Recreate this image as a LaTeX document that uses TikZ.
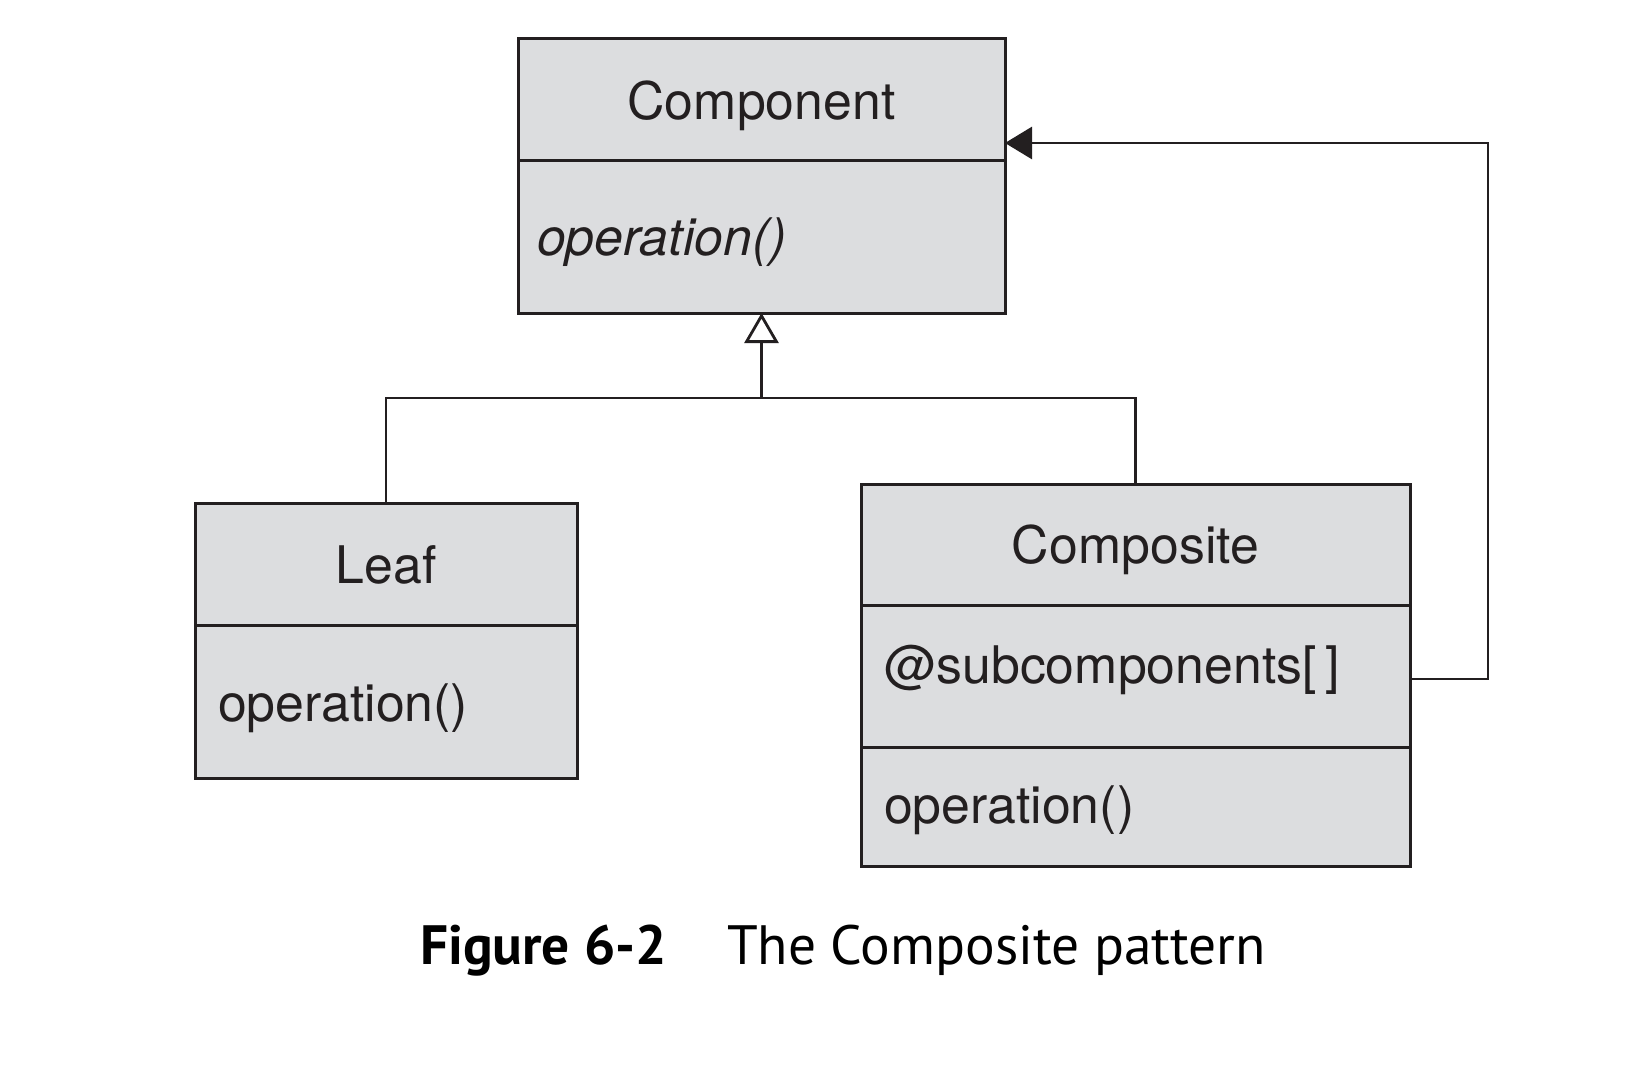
\documentclass[tikz,border=0pt]{standalone}
\usepackage{fontspec}
\setmainfont{TeX Gyre Heros}
\newfontfamily\capfont{PT Sans}
\usetikzlibrary{arrows.meta,calc}
\definecolor{ink}{HTML}{231F20}
\definecolor{boxfill}{HTML}{DCDDDF}
\begin{document}
\begin{tikzpicture}[x=0.5pt,y=-0.5pt,
  compart/.style={draw=ink, fill=boxfill, line width=1.5pt, inner sep=0pt, outer sep=0pt},
  lbl/.style={inner sep=0pt, outer sep=0pt, text=ink, font=\fontsize{25.9}{30}\selectfont},
  conn/.style={draw=ink, line width=1.4pt},
  captxt/.style={inner sep=0pt, outer sep=0pt, text=black, font=\capfont\fontsize{27.7}{32}\selectfont}]
\useasboundingbox (0,0) rectangle (1646,1066);
\fill[white] (0,0) rectangle (1646,1066);

% Component
\node[compart, minimum width=243.5pt, minimum height=61pt] (comp-title) at (761.5,99) {};
\node[compart, minimum width=243.5pt, minimum height=76.5pt] (comp-ops) at (761.5,236.5) {};
\node[lbl, anchor=base] (comp-name) at (761.5,119) {Component};
\node[lbl, anchor=base west, font=\fontsize{25.9}{30}\selectfont\itshape] (comp-op) at (537,255) {operation()};

% Leaf
\node[compart, minimum width=191pt, minimum height=61pt] (leaf-title) at (386,564) {};
\node[compart, minimum width=191pt, minimum height=76.5pt] (leaf-ops) at (386,701.5) {};
\node[lbl, anchor=base] (leaf-name) at (386,583) {Leaf};
\node[lbl, anchor=base west] (leaf-op) at (218,721) {operation()};

% Composite
\node[compart, minimum width=274.5pt, minimum height=60.5pt] (cps-title) at (1135.5,544.5) {};
\node[compart, minimum width=274.5pt, minimum height=71pt] (cps-attr) at (1135.5,676) {};
\node[compart, minimum width=274.5pt, minimum height=59.5pt] (cps-ops) at (1135.5,806.5) {};
\node[lbl, anchor=base] (cps-name) at (1135.5,563) {Composite};
\node[lbl, anchor=base west] (cps-attrtxt) at (884,683) {@subcomponents[\,]};
\node[lbl, anchor=base west] (cps-op) at (884,823) {operation()};

% connectors
\coordinate (junc) at (761.5,398);
\draw[conn] (leaf-title.north) |- (junc) -| (cps-title.north);
\draw[conn, -{Triangle[open, length=15pt, width=17pt, fill=white]}] (junc) -- (comp-ops.south);
\draw[conn, -{Triangle[length=13.5pt, width=16pt]}] ($(cps-attr.east)+(0,3)$) -- ++(78,0) |- ($(comp-title.east)+(0,44)$);

% caption
\node[captxt, anchor=base west, font=\capfont\bfseries\fontsize{27.7}{32}\selectfont] (fig-num) at (420,964) {Figure 6-2};
\node[captxt, anchor=base west] (fig-title) at (727,964) {The Composite pattern};
\end{tikzpicture}
\end{document}
